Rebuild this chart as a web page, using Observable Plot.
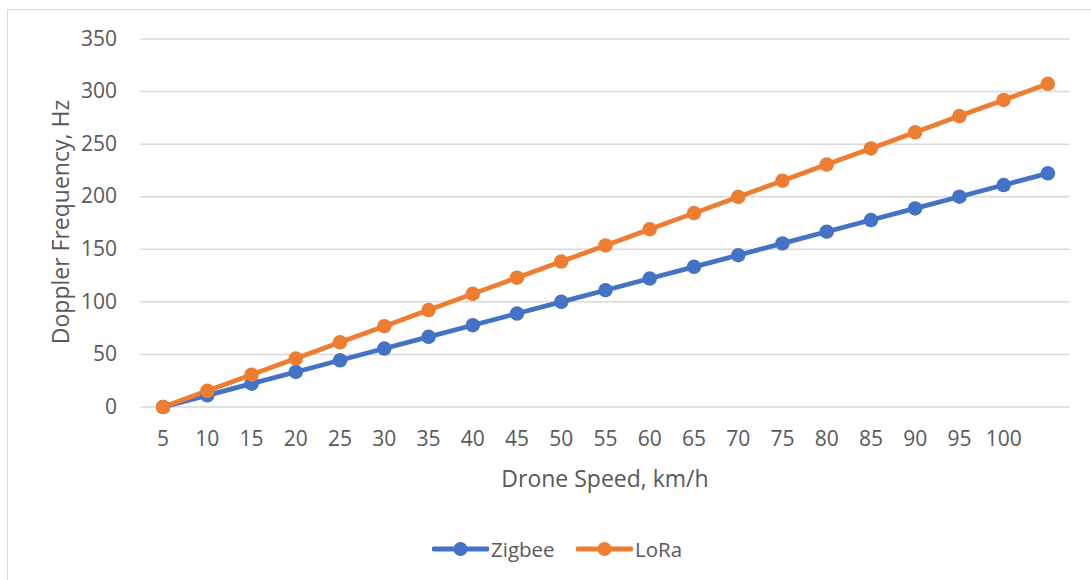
<!DOCTYPE html>
<html>
<head>
<meta charset="utf-8">
<script src="https://cdn.jsdelivr.net/npm/d3@7"></script>
<script src="https://cdn.jsdelivr.net/npm/@observablehq/plot@0.6"></script>
<style>
  html, body { margin: 0; padding: 0; background: #fff; overflow: hidden; width: 1091px; height: 580px; }
  body { position: relative; font-family: "Open Sans", sans-serif; color: #595959; }
  #frame { position: absolute; left: 7px; top: 9px; width: 1200px; height: 700px; border: 1.5px solid #d9d9d9; box-sizing: border-box; }
  #chart { position: absolute; left: 0; top: 0; }
  .title { position: absolute; font-size: 23px; color: #595959; white-space: nowrap; }
  #xtitle { left: 0; width: 1210px; text-align: center; top: 462px; }
  #ytitle { left: 60px; top: 222px; transform: translate(-50%, -50%) rotate(-90deg); }
  #legend { position: absolute; top: 535px; left: 0; width: 1091px; }
  .item { position: absolute; display: flex; align-items: center; font-size: 20.5px; }
</style>
</head>
<body>
<div id="frame"></div>
<div id="chart"></div>
<div class="title" id="xtitle">Drone Speed, km/h</div>
<div class="title" id="ytitle">Doppler Frequency, Hz</div>
<div id="legend"></div>
<script>
const xLabels = ["5","10","15","20","25","30","35","40","45","50","55","60","65","70","75","80","85","90","95","100",""];
const zigbee = [0, 11.1, 22.2, 33.3, 44.4, 55.6, 66.7, 77.8, 88.9, 100, 111.1, 122.2, 133.3, 144.4, 155.6, 166.7, 177.8, 188.9, 200, 211.1, 222.2];
const lora = [0, 15.4, 30.7, 46.1, 61.5, 76.9, 92.2, 107.6, 123, 138.3, 153.7, 169.1, 184.4, 199.8, 215.2, 230.6, 245.9, 261.3, 276.7, 292, 307.4];
const yTicks = [0, 50, 100, 150, 200, 250, 300, 350];
const seriesNames = ["Zigbee", "LoRa"];
const seriesColors = ["#4472C4", "#ED7D31"];

const rows = [];
xLabels.forEach((x, i) => {
  rows.push({x, y: zigbee[i], s: "Zigbee"});
  rows.push({x, y: lora[i], s: "LoRa"});
});

const chart = Plot.plot({
  width: 1091,
  height: 500,
  marginLeft: 140.5,
  marginRight: 21.5,
  marginTop: 38.5,
  marginBottom: 93.5,
  style: { fontFamily: "Open Sans, sans-serif", fontSize: "21px", color: "#595959", background: "transparent" },
  x: { type: "point", domain: xLabels, padding: 0.5, round: false, label: null },
  y: { domain: [0, 350], label: null },
  color: { domain: seriesNames, range: seriesColors },
  marks: [
    Plot.ruleY(yTicks, { stroke: "#d9d9d9", strokeWidth: 1.5 }),
    Plot.axisY({ ticks: yTicks, tickSize: 0, tickPadding: 24, label: null, fill: "#595959" }),
    Plot.axisX({ tickSize: 0, tickPadding: 24, label: null, fill: "#595959" }),
    Plot.line(rows, { x: "x", y: "y", z: "s", stroke: "s", strokeWidth: 4.75, strokeLinejoin: "round" }),
    Plot.dot(rows, { x: "x", y: "y", fill: "s", r: 7.25, stroke: "none" })
  ]
});
document.getElementById("chart").appendChild(chart);

// legend
const legend = document.getElementById("legend");
const legendX = [432, 576];
seriesNames.forEach((name, i) => {
  const item = document.createElement("div");
  item.className = "item";
  item.style.left = legendX[i] + "px";
  item.innerHTML = `<svg width="57" height="26"><line x1="2" y1="13" x2="55" y2="13" stroke="${seriesColors[i]}" stroke-width="5" stroke-linecap="round"/><circle cx="28.5" cy="13" r="7" fill="${seriesColors[i]}"/></svg><span style="margin-left:2px">${name}</span>`;
  legend.appendChild(item);
});
</script>
</body>
</html>
